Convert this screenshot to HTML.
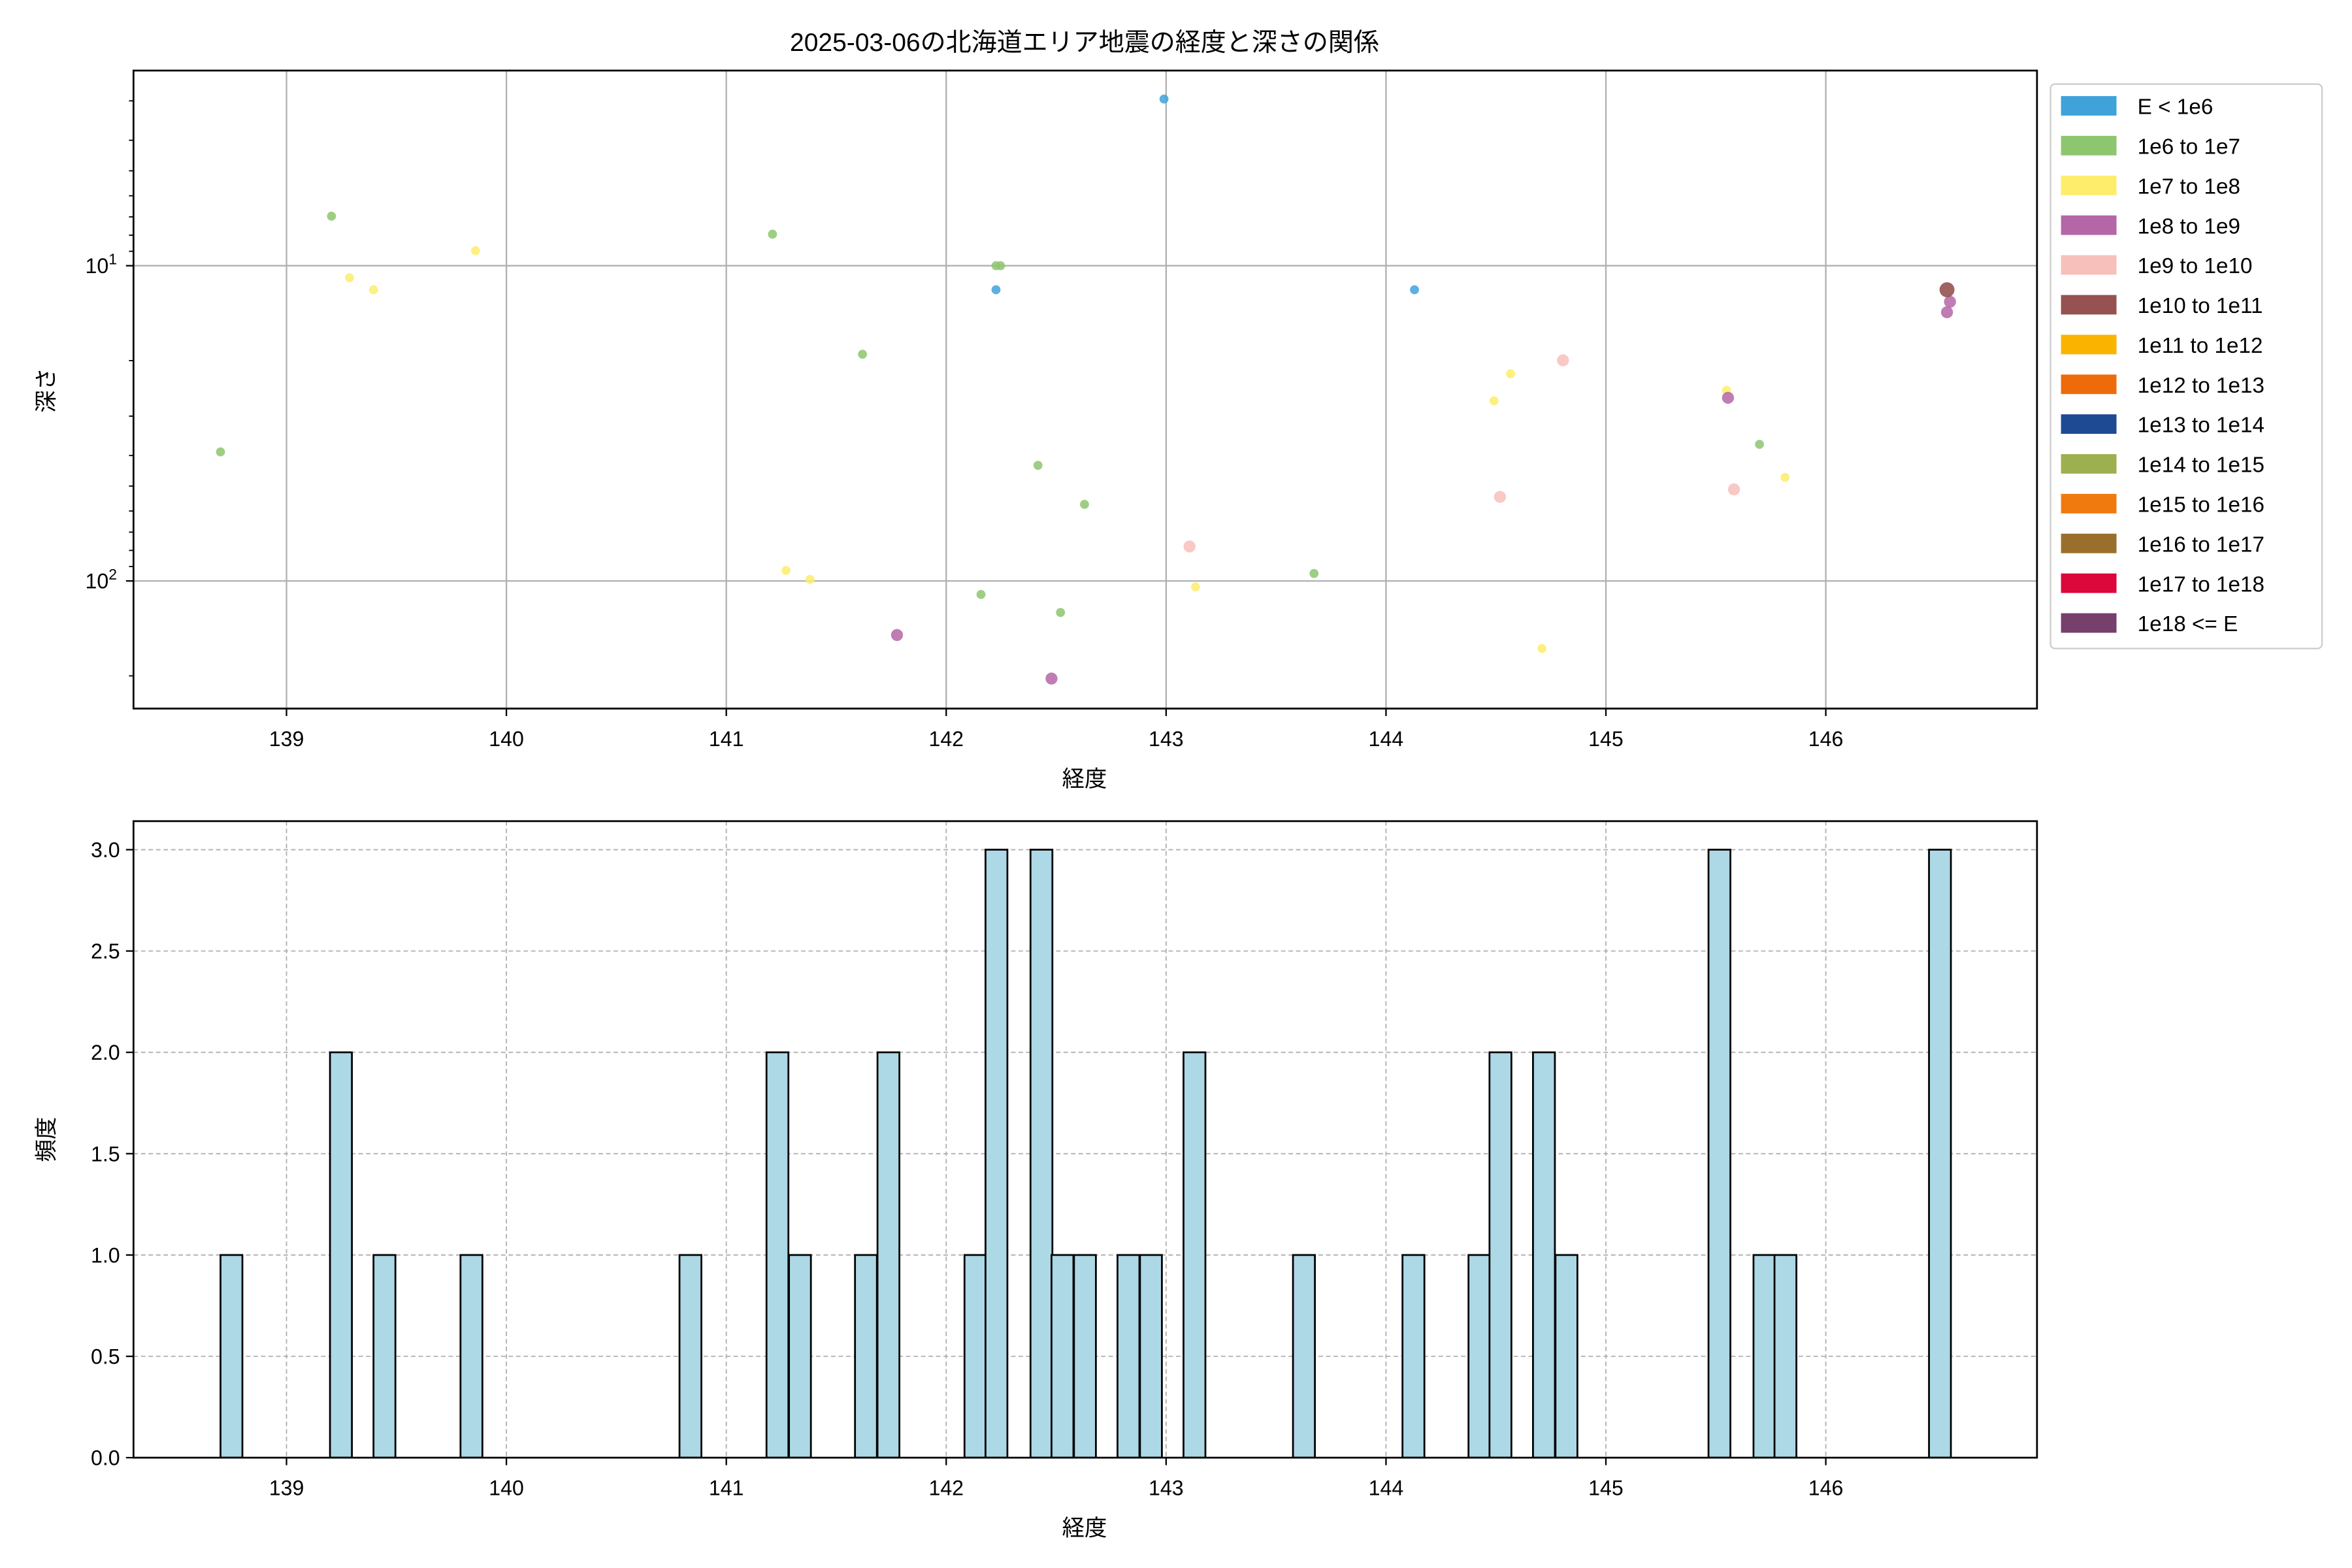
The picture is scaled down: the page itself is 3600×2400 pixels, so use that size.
<!DOCTYPE html>
<html><head><meta charset="utf-8"><style>html,body{margin:0;padding:0;background:#fff}svg{display:block}</style></head>
<body>
<svg id="s" xmlns="http://www.w3.org/2000/svg" width="3600" height="2400" viewBox="0 0 1568 1044.5" preserveAspectRatio="none" font-family="'Liberation Sans','Noto Sans CJK JP',sans-serif">
<rect width="1568" height="1045" fill="#fff"/>
<g id="g"></g>
</svg>
<script>
const g=document.getElementById('g');let h='';
const X=v=>191+(v-139)*146.6;
h+='<text x="723" y="34" font-size="17" text-anchor="middle">2025-03-06の北海道エリア地震の経度と深さの関係</text>';
for(let v=139;v<=146;v++){const x=X(v);
h+=`<line x1="${x}" y1="47" x2="${x}" y2="472" stroke="#b0b0b0" stroke-width="1"/>`;
h+=`<line x1="${x}" y1="472" x2="${x}" y2="477" stroke="#000"/><text x="${x}" y="497" font-size="14" text-anchor="middle">${v}</text>`;
h+=`<line x1="${x}" y1="547" x2="${x}" y2="971" stroke="#b0b0b0" stroke-dasharray="3,2" stroke-width="0.8"/>`;
h+=`<line x1="${x}" y1="971" x2="${x}" y2="976" stroke="#000"/><text x="${x}" y="996" font-size="14" text-anchor="middle">${v}</text>`;}
const Y=d=>177+210*(Math.log10(d)-1);
[10,100].forEach((d,i)=>{const y=Y(d);h+=`<line x1="89" y1="${y}" x2="1358" y2="${y}" stroke="#b0b0b0"/><line x1="84" y1="${y}" x2="89" y2="${y}" stroke="#000"/><text x="78" y="${y+5}" font-size="14" text-anchor="end">10<tspan dy="-6" font-size="10">${i+1}</tspan></text>`;});
[3,4,5,6,7,8,9,20,30,40,50,60,70,80,90,200].forEach(d=>{const y=Y(d);if(y>47&&y<472)h+=`<line x1="86" y1="${y}" x2="89" y2="${y}" stroke="#000" stroke-width="0.8"/>`;});
h+='<text x="723" y="524" font-size="15" text-anchor="middle">経度</text>';
h+='<text transform="translate(36,260) rotate(-90)" font-size="15" text-anchor="middle">深さ</text>';
const C={b:'#3fa3da',gr:'#8dc66f',y:'#fded6a',p:'#b566a6',pk:'#f7c0bb',br:'#955251'};
const P=[['gr',147,301],['gr',221,144],['gr',515,156],['gr',664,177],['gr',667,177],['gr',575,236],['gr',692,310],['gr',723,336],['gr',876,382],['gr',654,396],['gr',707,408],['gr',1173,296],
['y',233,185],['y',249,193],['y',317,167],['y',996,267],['y',1007,249],['y',1151,260],['y',1190,318],['y',524,380],['y',540,386],['y',797,391],['y',1028,432],
['b',776,66],['b',664,193],['b',943,193],
['p',598,423],['p',701,452],['p',1152,265],['p',1298,208],['p',1300,201],
['pk',1042,240],['pk',1000,331],['pk',1156,326],['pk',793,364]];
P.forEach(p=>{const r=p[0]=='gr'||p[0]=='y'||p[0]=='b'?3:4;h+=`<circle cx="${p[1]}" cy="${p[2]}" r="${r}" fill="${C[p[0]]}" fill-opacity="0.85"/>`;});
h+=`<circle cx="1298" cy="193" r="5" fill="#955251" fill-opacity="0.9"/>`;
h+='<rect x="89" y="47" width="1269" height="425" fill="none" stroke="#000" stroke-width="1.2"/>';
h+='<rect x="1367" y="56" width="181" height="376" rx="3" fill="#fff" stroke="#ccc"/>';
const L=[['E < 1e6','#3fa3da'],['1e6 to 1e7','#8dc66f'],['1e7 to 1e8','#fded6a'],['1e8 to 1e9','#b566a6'],['1e9 to 1e10','#f7c0bb'],['1e10 to 1e11','#955251'],['1e11 to 1e12','#fab400'],['1e12 to 1e13','#ee6b0c'],['1e13 to 1e14','#1e4a94'],['1e14 to 1e15','#9db050'],['1e15 to 1e16','#f07a0e'],['1e16 to 1e17','#9a6f2e'],['1e17 to 1e18','#dc073a'],['1e18 <= E','#763f6c']];
L.forEach((l,i)=>{const y=71+i*26.5;h+=`<rect x="1374" y="${y-7}" width="37" height="13" fill="${l[1]}"/><text x="1425" y="${y+5}" font-size="14.5">${l[0]}</text>`;});
for(let k=0;k<=6;k++){const y=971-67.5*k;h+=`<line x1="89" y1="${y}" x2="1358" y2="${y}" stroke="#b0b0b0" stroke-dasharray="3,2" stroke-width="0.8"/><line x1="84" y1="${y}" x2="89" y2="${y}" stroke="#000"/><text x="80" y="${y+5}" font-size="14" text-anchor="end">${(k*0.5).toFixed(1)}</text>`;}
const B=[[147,1],[220,2],[249,1],[307,1],[453,1],[511,2],[526,1],[570,1],[585,2],[643,1],[657,3],[687,3],[701,1],[716,1],[745,1],[760,1],[789,2],[862,1],[935,1],[979,1],[993,2],[1022,2],[1037,1],[1139,3],[1169,1],[1183,1],[1286,3]];
B.forEach(b=>{const t=971-135*b[1];h+=`<rect x="${b[0]}" y="${t}" width="14.6" height="${971-t}" fill="#add8e6" stroke="#000" stroke-width="1.2"/>`;});
h+='<rect x="89" y="547" width="1269" height="424" fill="none" stroke="#000" stroke-width="1.2"/>';
h+='<text x="723" y="1023" font-size="15" text-anchor="middle">経度</text>';
h+='<text transform="translate(36,759) rotate(-90)" font-size="15" text-anchor="middle">頻度</text>';
g.innerHTML=h;
</script>
</body></html>
